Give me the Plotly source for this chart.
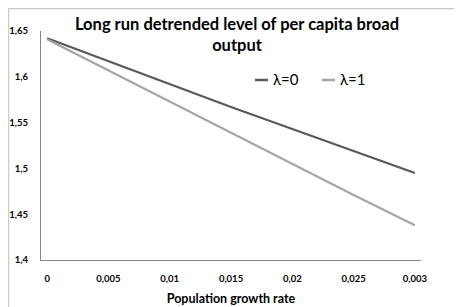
import plotly.graph_objects as go

categories = ["0", "0,005", "0,01", "0,015", "0,02", "0,025", "0,003"]
lambda0 = [1.642, 1.617, 1.592, 1.567, 1.543, 1.519, 1.495]
lambda1 = [1.641, 1.607, 1.573, 1.539, 1.505, 1.471, 1.438]
yticks = [1.4, 1.45, 1.5, 1.55, 1.6, 1.65]
yticklabels = ["1,4", "1,45", "1,5", "1,55", "1,6", "1,65"]
series_names = ["λ=0", "λ=1"]
series_colors = ["#595959", "#a6a6a6"]

idx = list(range(len(categories)))
FONT = "Lato"

fig = go.Figure()
for name, vals, col in zip(series_names, [lambda0, lambda1], series_colors):
    fig.add_trace(go.Scatter(x=idx, y=vals, mode="lines", name=name,
                             line=dict(color=col, width=2.2), showlegend=False))

# page body has an 8px default margin; work in screen coords and convert
OFF = 8
W, H = 462, 307
PL, PR, PT, PB = 41, 421, 31, 260          # plot area in screen pixels
L, T = PL - OFF, PT - OFF
R, B = W - (PR - OFF), H - (PB - OFF)
pw, ph = W - L - R, H - T - B

def px(xs):
    return (xs - PL) / pw

def py(ys):
    return (PB - ys) / ph

fig.add_shape(type="rect", xref="paper", yref="paper",
              x0=px(8.7), x1=px(480), y0=py(8.7), y1=py(340),
              line=dict(color="#c8c8c8", width=1.2), fillcolor="rgba(0,0,0,0)", layer="above")

# manual legend
legend_x = [255, 322]
legend_y = 80
for name, col, lx in zip(series_names, series_colors, legend_x):
    fig.add_shape(type="line", xref="paper", yref="paper",
                  x0=px(lx), x1=px(lx + 13), y0=py(legend_y), y1=py(legend_y),
                  line=dict(color=col, width=2.5))
    fig.add_annotation(xref="paper", yref="paper", x=px(lx + 16), y=py(legend_y - 1),
                       xanchor="left", yanchor="middle", showarrow=False,
                       text=name, font=dict(size=15, family=FONT, color="#000000"))

fig.update_layout(
    width=W, height=H,
    margin=dict(l=L, r=R, t=T, b=B, autoexpand=False),
    paper_bgcolor="white", plot_bgcolor="white",
    font=dict(family=FONT, color="#000000"),
    title=dict(text="Long run detrended level of per capita broad<br>output",
               x=229 / W, xanchor="center", y=1 - 22 / H, yanchor="middle",
               font=dict(size=16.5, family=FONT, weight="bold")),
    showlegend=False,
)
fig.update_xaxes(range=[-0.1, 6.1], tickmode="array", tickvals=idx, ticktext=categories,
                 automargin=False,
                 showgrid=False, zeroline=False, showline=True, linecolor="#868686", linewidth=1,
                 ticks="", ticklabelstandoff=10,
                 tickfont=dict(size=9.5, family=FONT, weight="bold"),
                 title=dict(text="Population growth rate", standoff=10,
                            font=dict(size=12.5, family=FONT, weight="bold")))
fig.update_yaxes(range=[1.4, 1.65], tickmode="array", tickvals=yticks, ticktext=yticklabels,
                 automargin=False,
                 showgrid=False, zeroline=False, showline=True, linecolor="#868686", linewidth=1,
                 ticks="", ticklabelstandoff=10,
                 tickfont=dict(size=9.5, family=FONT, weight="bold"))

fig.write_html("out.html")
